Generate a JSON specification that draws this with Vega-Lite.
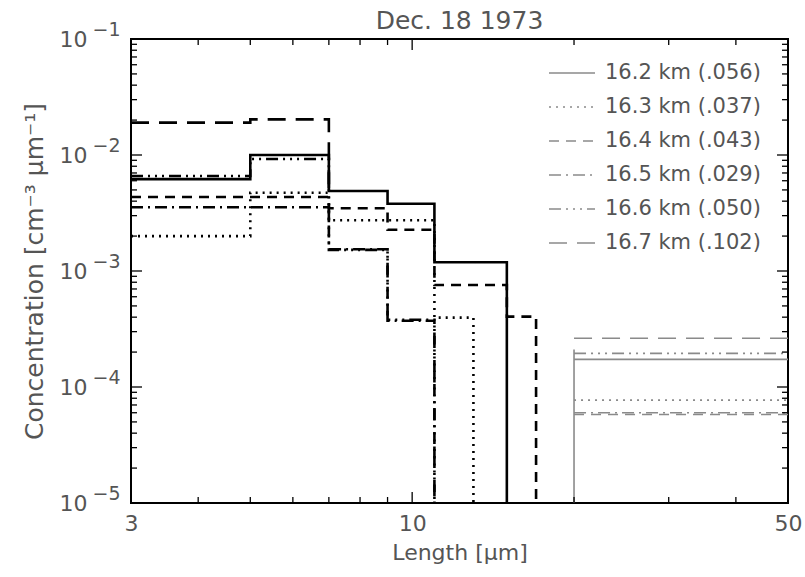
{
  "$schema": "https://vega.github.io/schema/vega-lite/v6.json",
  "width": 657,
  "height": 464,
  "autosize": {"type": "none"},
  "padding": {"left": 131, "top": 39, "right": 17, "bottom": 74},
  "background": "white",
  "title": {"text": "Dec. 18 1973", "fontSize": 25, "font": "DejaVu Sans", "fontWeight": "normal", "color": "#555", "offset": -14, "anchor": "middle"},
  "datasets": {
    "main": [
      {"s": "16.2 km (.056)", "x": 3, "y": 0.0062},
      {"s": "16.2 km (.056)", "x": 5, "y": 0.0100},
      {"s": "16.2 km (.056)", "x": 7, "y": 0.0049},
      {"s": "16.2 km (.056)", "x": 9, "y": 0.0038},
      {"s": "16.2 km (.056)", "x": 11, "y": 0.00119},
      {"s": "16.2 km (.056)", "x": 15, "y": 0.00001},
      {"s": "16.3 km (.037)", "x": 3, "y": 0.0020},
      {"s": "16.3 km (.037)", "x": 5, "y": 0.00473},
      {"s": "16.3 km (.037)", "x": 7, "y": 0.00274},
      {"s": "16.3 km (.037)", "x": 9, "y": 0.00274},
      {"s": "16.3 km (.037)", "x": 11, "y": 0.000396},
      {"s": "16.3 km (.037)", "x": 13, "y": 0.00001},
      {"s": "16.4 km (.043)", "x": 3, "y": 0.00434},
      {"s": "16.4 km (.043)", "x": 5, "y": 0.00434},
      {"s": "16.4 km (.043)", "x": 7, "y": 0.00347},
      {"s": "16.4 km (.043)", "x": 9, "y": 0.00227},
      {"s": "16.4 km (.043)", "x": 11, "y": 0.000757},
      {"s": "16.4 km (.043)", "x": 15, "y": 0.000404},
      {"s": "16.4 km (.043)", "x": 17, "y": 0.00001},
      {"s": "16.5 km (.029)", "x": 3, "y": 0.00354},
      {"s": "16.5 km (.029)", "x": 5, "y": 0.00354},
      {"s": "16.5 km (.029)", "x": 7, "y": 0.00154},
      {"s": "16.5 km (.029)", "x": 9, "y": 0.000373},
      {"s": "16.5 km (.029)", "x": 11, "y": 0.00001},
      {"s": "16.6 km (.050)", "x": 3, "y": 0.0066},
      {"s": "16.6 km (.050)", "x": 5, "y": 0.00924},
      {"s": "16.6 km (.050)", "x": 7, "y": 0.00152},
      {"s": "16.6 km (.050)", "x": 9, "y": 0.00038},
      {"s": "16.6 km (.050)", "x": 11, "y": 0.00001},
      {"s": "16.7 km (.102)", "x": 3, "y": 0.0190},
      {"s": "16.7 km (.102)", "x": 5, "y": 0.0203},
      {"s": "16.7 km (.102)", "x": 7, "y": 0.0049}
    ],
    "tail": [
      {"s": "16.2 km (.056)", "x": 20, "x2": 50, "y": 0.000173},
      {"s": "16.3 km (.037)", "x": 20, "x2": 50, "y": 0.000077},
      {"s": "16.4 km (.043)", "x": 20, "x2": 50, "y": 0.000058},
      {"s": "16.5 km (.029)", "x": 20, "x2": 50, "y": 0.000060},
      {"s": "16.6 km (.050)", "x": 20, "x2": 50, "y": 0.000195},
      {"s": "16.7 km (.102)", "x": 20, "x2": 50, "y": 0.000263}
    ],
    "edge": [
      {"x": 20, "y": 0.00001, "y2": 0.00021}
    ],
    "xt": [
      {"v": 4, "m": false}, {"v": 5, "m": false}, {"v": 6, "m": false}, {"v": 7, "m": false},
      {"v": 8, "m": false}, {"v": 9, "m": false}, {"v": 10, "m": true},
      {"v": 20, "m": false}, {"v": 30, "m": false}, {"v": 40, "m": false}
    ],
    "yt": [
      {"v": 0.00002, "m": false}, {"v": 0.00003, "m": false}, {"v": 0.00004, "m": false}, {"v": 0.00005, "m": false},
      {"v": 0.00006, "m": false}, {"v": 0.00007, "m": false}, {"v": 0.00008, "m": false}, {"v": 0.00009, "m": false},
      {"v": 0.0001, "m": true},
      {"v": 0.0002, "m": false}, {"v": 0.0003, "m": false}, {"v": 0.0004, "m": false}, {"v": 0.0005, "m": false},
      {"v": 0.0006, "m": false}, {"v": 0.0007, "m": false}, {"v": 0.0008, "m": false}, {"v": 0.0009, "m": false},
      {"v": 0.001, "m": true},
      {"v": 0.002, "m": false}, {"v": 0.003, "m": false}, {"v": 0.004, "m": false}, {"v": 0.005, "m": false},
      {"v": 0.006, "m": false}, {"v": 0.007, "m": false}, {"v": 0.008, "m": false}, {"v": 0.009, "m": false},
      {"v": 0.01, "m": true},
      {"v": 0.02, "m": false}, {"v": 0.03, "m": false}, {"v": 0.04, "m": false}, {"v": 0.05, "m": false},
      {"v": 0.06, "m": false}, {"v": 0.07, "m": false}, {"v": 0.08, "m": false}, {"v": 0.09, "m": false}
    ]
  },
  "config": {
    "view": {"stroke": "#000", "strokeWidth": 2},
    "font": "DejaVu Sans",
    "axis": {
      "domain": false,
      "grid": false,
      "ticks": false,
      "labelColor": "#555",
      "titleColor": "#555",
      "labelFont": "DejaVu Sans",
      "titleFont": "DejaVu Sans",
      "titleFontWeight": "normal",
      "labelFontSize": 22,
      "titleFontSize": 22,
      "labelFlush": false,
      "labelOverlap": false
    }
  },
  "layer": [
    {
      "data": {"name": "main"},
      "mark": {"type": "line", "interpolate": "step-after", "color": "#000", "strokeWidth": 2.6, "clip": true},
      "encoding": {
        "x": {
          "field": "x", "type": "quantitative",
          "scale": {"type": "log", "domain": [3, 50], "nice": false},
          "axis": {
            "orient": "bottom",
            "title": "Length [μm]",
            "titlePadding": 8,
            "values": [3, 10, 50],
            "labelExpr": "'' + datum.value",
            "labelPadding": 10
          }
        },
        "y": {
          "field": "y", "type": "quantitative",
          "scale": {"type": "log", "domain": [0.00001, 0.1], "nice": false},
          "axis": {
            "orient": "left",
            "title": "Concentration [cm⁻³ μm⁻¹]",
            "titleFontSize": 25,
            "titlePadding": 12,
            "values": [0.00001, 0.0001, 0.001, 0.01, 0.1],
            "labelExpr": "'10'",
            "labelPadding": 44
          }
        },
        "strokeDash": {
          "field": "s", "type": "nominal",
          "scale": {
            "domain": ["16.2 km (.056)", "16.3 km (.037)", "16.4 km (.043)", "16.5 km (.029)", "16.6 km (.050)", "16.7 km (.102)"],
            "range": [[1, 0], [2, 5], [10, 7], [12, 5, 2, 5], [12, 5, 2, 5, 2, 5, 2, 5], [18, 10]]
          },
          "legend": {
            "title": null,
            "orient": "none",
            "legendX": 417,
            "legendY": 10,
            "padding": 0,
            "symbolType": "stroke",
            "symbolSize": 2116,
            "symbolStrokeColor": "#777",
            "symbolStrokeWidth": 1.5,
            "labelFontSize": 21,
            "labelColor": "#555",
            "labelFont": "DejaVu Sans",
            "labelOffset": 9,
            "rowPadding": -11.5
          }
        }
      }
    },
    {
      "data": {"name": "tail"},
      "mark": {"type": "rule", "color": "#8a8a8a", "strokeWidth": 1.6},
      "encoding": {
        "x": {"field": "x", "type": "quantitative", "axis": null},
        "x2": {"field": "x2"},
        "y": {"field": "y", "type": "quantitative", "axis": null},
        "strokeDash": {"field": "s", "type": "nominal"}
      }
    },
    {
      "data": {"name": "edge"},
      "mark": {"type": "rule", "color": "#8a8a8a", "strokeWidth": 1.6},
      "encoding": {
        "x": {"field": "x", "type": "quantitative", "axis": null},
        "y": {
          "field": "y", "type": "quantitative",
          "axis": {
            "orient": "left", "title": null,
            "values": [0.00001, 0.0001, 0.001, 0.01, 0.1],
            "labelExpr": "round(log(datum.value)/LN10) == -1 ? '−1' : round(log(datum.value)/LN10) == -2 ? '−2' : round(log(datum.value)/LN10) == -3 ? '−3' : round(log(datum.value)/LN10) == -4 ? '−4' : '−5'",
            "labelFontSize": 19,
            "labelPadding": 11,
            "labelOffset": -10
          }
        },
        "y2": {"field": "y2"}
      }
    },
    {
      "data": {"name": "xt"},
      "transform": [{"filter": "!datum.m"}],
      "mark": {"type": "rule", "color": "#000", "strokeWidth": 1.3},
      "encoding": {
        "x": {"field": "v", "type": "quantitative", "axis": null},
        "y": {"datum": 0.00001, "type": "quantitative", "axis": null},
        "y2": {"datum": 0.00001126}
      }
    },
    {
      "data": {"name": "xt"},
      "transform": [{"filter": "datum.m"}],
      "mark": {"type": "rule", "color": "#000", "strokeWidth": 1.3},
      "encoding": {
        "x": {"field": "v", "type": "quantitative", "axis": null},
        "y": {"datum": 0.00001, "type": "quantitative", "axis": null},
        "y2": {"datum": 0.00001244}
      }
    },
    {
      "data": {"name": "xt"},
      "transform": [{"filter": "!datum.m"}],
      "mark": {"type": "rule", "color": "#000", "strokeWidth": 1.3},
      "encoding": {
        "x": {"field": "v", "type": "quantitative", "axis": null},
        "y": {"datum": 0.1, "type": "quantitative", "axis": null},
        "y2": {"datum": 0.0888}
      }
    },
    {
      "data": {"name": "xt"},
      "transform": [{"filter": "datum.m"}],
      "mark": {"type": "rule", "color": "#000", "strokeWidth": 1.3},
      "encoding": {
        "x": {"field": "v", "type": "quantitative", "axis": null},
        "y": {"datum": 0.1, "type": "quantitative", "axis": null},
        "y2": {"datum": 0.0804}
      }
    },
    {
      "data": {"name": "yt"},
      "transform": [{"filter": "!datum.m"}],
      "mark": {"type": "rule", "color": "#000", "strokeWidth": 1.3},
      "encoding": {
        "y": {"field": "v", "type": "quantitative", "axis": null},
        "x": {"datum": 3, "type": "quantitative", "axis": null},
        "x2": {"datum": 3.078}
      }
    },
    {
      "data": {"name": "yt"},
      "transform": [{"filter": "datum.m"}],
      "mark": {"type": "rule", "color": "#000", "strokeWidth": 1.3},
      "encoding": {
        "y": {"field": "v", "type": "quantitative", "axis": null},
        "x": {"datum": 3, "type": "quantitative", "axis": null},
        "x2": {"datum": 3.145}
      }
    },
    {
      "data": {"name": "yt"},
      "transform": [{"filter": "!datum.m"}],
      "mark": {"type": "rule", "color": "#000", "strokeWidth": 1.3},
      "encoding": {
        "y": {"field": "v", "type": "quantitative", "axis": null},
        "x": {"datum": 50, "type": "quantitative", "axis": null},
        "x2": {"datum": 48.73}
      }
    },
    {
      "data": {"name": "yt"},
      "transform": [{"filter": "datum.m"}],
      "mark": {"type": "rule", "color": "#000", "strokeWidth": 1.3},
      "encoding": {
        "y": {"field": "v", "type": "quantitative", "axis": null},
        "x": {"datum": 50, "type": "quantitative", "axis": null},
        "x2": {"datum": 47.69}
      }
    }
  ],
  "resolve": {"axis": {"x": "independent", "y": "independent"}}
}
